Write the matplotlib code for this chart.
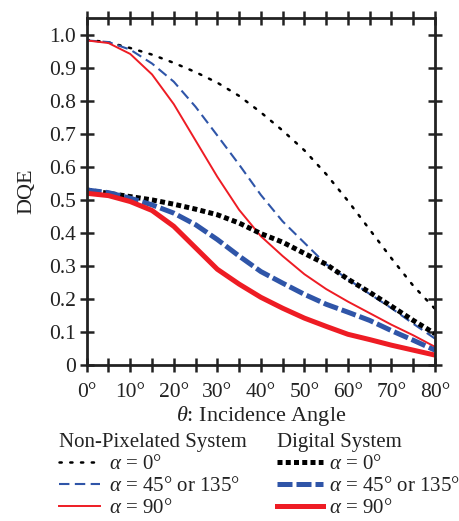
import matplotlib
matplotlib.use("Agg")
import matplotlib.pyplot as plt

plt.rcParams['font.family'] = ['Liberation Serif', 'DejaVu Serif']
plt.rcParams['mathtext.fontset'] = 'custom'
plt.rcParams['mathtext.rm'] = 'Liberation Serif'
plt.rcParams['mathtext.it'] = 'Liberation Serif:italic'

angles = [0, 5, 10, 15, 20, 25, 30, 35, 40, 45, 50, 55, 60, 65, 70, 75, 80]

np_a0 = [0.985, 0.977, 0.96, 0.94, 0.915, 0.887, 0.855, 0.815, 0.765, 0.71, 0.65, 0.578, 0.497, 0.41, 0.323, 0.24, 0.17]
np_a45 = [0.983, 0.978, 0.955, 0.913, 0.858, 0.782, 0.695, 0.607, 0.515, 0.435, 0.37, 0.305, 0.26, 0.215, 0.172, 0.125, 0.08]
np_a90 = [0.983, 0.975, 0.942, 0.88, 0.79, 0.68, 0.57, 0.47, 0.39, 0.33, 0.275, 0.23, 0.192, 0.157, 0.122, 0.09, 0.055]

dg_a0 = [0.53, 0.52, 0.51, 0.50, 0.487, 0.472, 0.455, 0.43, 0.398, 0.372, 0.338, 0.305, 0.26, 0.22, 0.178, 0.135, 0.095]
dg_a45 = [0.53, 0.522, 0.505, 0.485, 0.46, 0.425, 0.38, 0.33, 0.283, 0.248, 0.214, 0.184, 0.16, 0.135, 0.104, 0.075, 0.045]
dg_a90 = [0.52, 0.513, 0.495, 0.468, 0.42, 0.355, 0.29, 0.245, 0.205, 0.172, 0.142, 0.117, 0.093, 0.077, 0.06, 0.045, 0.03]

xtick_vals = [0, 10, 20, 30, 40, 50, 60, 70, 80]
xtick_labels = ['0°', '10°', '20°', '30°', '40°', '50°', '60°', '70°', '80°']
ytick_vals = [0, 0.1, 0.2, 0.3, 0.4, 0.5, 0.6, 0.7, 0.8, 0.9, 1.0]
ytick_labels = ['0', '0.1', '0.2', '0.3', '0.4', '0.5', '0.6', '0.7', '0.8', '0.9', '1.0']

legend_labels = [r'$\alpha$ = 0°', r'$\alpha$ = 45° or 135°', r'$\alpha$ = 90°']

BLUE = '#2f55a8'
RED = '#ee1c24'
BLACK = '#000000'
INK = '#222222'

fig = plt.figure(figsize=(4.6, 5.21), dpi=100)
ax = fig.add_axes([0.1885, 0.2994, 0.7572, 0.6655])

thick = 3.6
l1, = ax.plot(angles, np_a0, color=BLACK, lw=1.8, linestyle=(0, (0.9, 3.4)), dash_capstyle='round')
l2, = ax.plot(angles, np_a45, color=BLUE, lw=1.5, linestyle=(0, (5, 2.6)))
l3, = ax.plot(angles, np_a90, color=RED, lw=1.4)
l4, = ax.plot(angles, dg_a0, color=BLACK, lw=thick, linestyle=(0, (1.0, 0.65)))
l5, = ax.plot(angles, dg_a45, color=BLUE, lw=thick, linestyle=(0, (3.0, 0.8)))
l6, = ax.plot(angles, dg_a90, color=RED, lw=thick)

ax.set_xlim(0, 80)
ax.set_ylim(0, 1.05)
ax.set_xticks(xtick_vals)
ax.set_xticklabels(xtick_labels)
ax.set_xticks(range(5, 80, 10), minor=True)
ax.set_yticks(ytick_vals)
ax.set_yticklabels(ytick_labels)

for s in ax.spines.values():
    s.set_linewidth(2.0)
    s.set_color(INK)
ax.tick_params(which='both', direction='inout', length=9.5, width=1.8, color=INK,
               top=True, right=True, labelsize=15.5, labelcolor=INK)
ax.tick_params(axis='x', pad=8.5)
ax.tick_params(axis='y', pad=3)

ax.set_xlabel(r'$\theta$: Incidence Angle', fontsize=16, color=INK, labelpad=1)
ax.set_ylabel('DQE', fontsize=16, color=INK, labelpad=9)

leg1 = fig.legend([l1, l2, l3], legend_labels,
                  title='Non-Pixelated System', loc='upper left', bbox_to_anchor=(0.128, 0.168),
                  frameon=False, fontsize=15, title_fontsize=15, alignment='left',
                  handlelength=1.95, handletextpad=0.45, labelspacing=0.11, borderpad=0, borderaxespad=0)
leg2 = fig.legend([l4, l5, l6], legend_labels,
                  title='Digital System', loc='upper left', bbox_to_anchor=(0.602, 0.168),
                  frameon=False, fontsize=15, title_fontsize=15, alignment='left',
                  handlelength=2.2, handletextpad=0.3, labelspacing=0.11, borderpad=0, borderaxespad=0)
for leg in (leg1, leg2):
    leg.get_title().set_color(INK)
    for t in leg.get_texts():
        t.set_color(INK)

fig.savefig('out.png', dpi=100)
